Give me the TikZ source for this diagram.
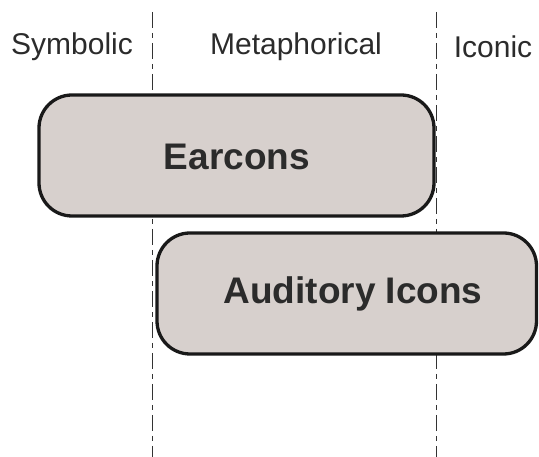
\documentclass[tikz,border=0pt]{standalone}
\usepackage{fontspec}
\setmainfont{Liberation Sans}
\definecolor{boxfill}{HTML}{D7D0CD}
\definecolor{txt}{HTML}{2B2B2B}
\begin{document}
\begin{tikzpicture}[x=1pt,y=1pt,
  divider/.style={line width=0.9pt, black!80, dash pattern=on 16pt off 5pt on 5pt off 5pt},
  catbox/.style={draw=black!90, line width=3.3pt, fill=boxfill, rounded corners=33pt},
  catlabel/.style={font=\fontsize{30}{36}\selectfont, text=txt, inner sep=0pt},
  boxlabel/.style={font=\fontsize{37}{44}\selectfont\bfseries, text=txt, inner sep=0pt}]
\useasboundingbox (0,0) rectangle (539,457);
\coordinate (l1t) at (152,445);
\coordinate (l1b) at (152,0);
\coordinate (l2t) at (436,445);
\coordinate (l2b) at (436,0);
\draw[divider] (l1t) -- (l1b);
\draw[divider] (l2t) -- (l2b);
\node[catlabel] (sym) at (72,410) {Symbolic};
\node[catlabel] (met) at (296,410) {Metaphorical};
\node[catlabel] (ico) at (493,410) {Iconic};
\draw[catbox] (39,362) rectangle (434,241);
\node[boxlabel] (ear) at (237,300) {Earcons};
\draw[catbox] (157,224) rectangle (536.5,103);
\node[boxlabel] (aud) at (353,163) {Auditory Icons};
\end{tikzpicture}
\end{document}
